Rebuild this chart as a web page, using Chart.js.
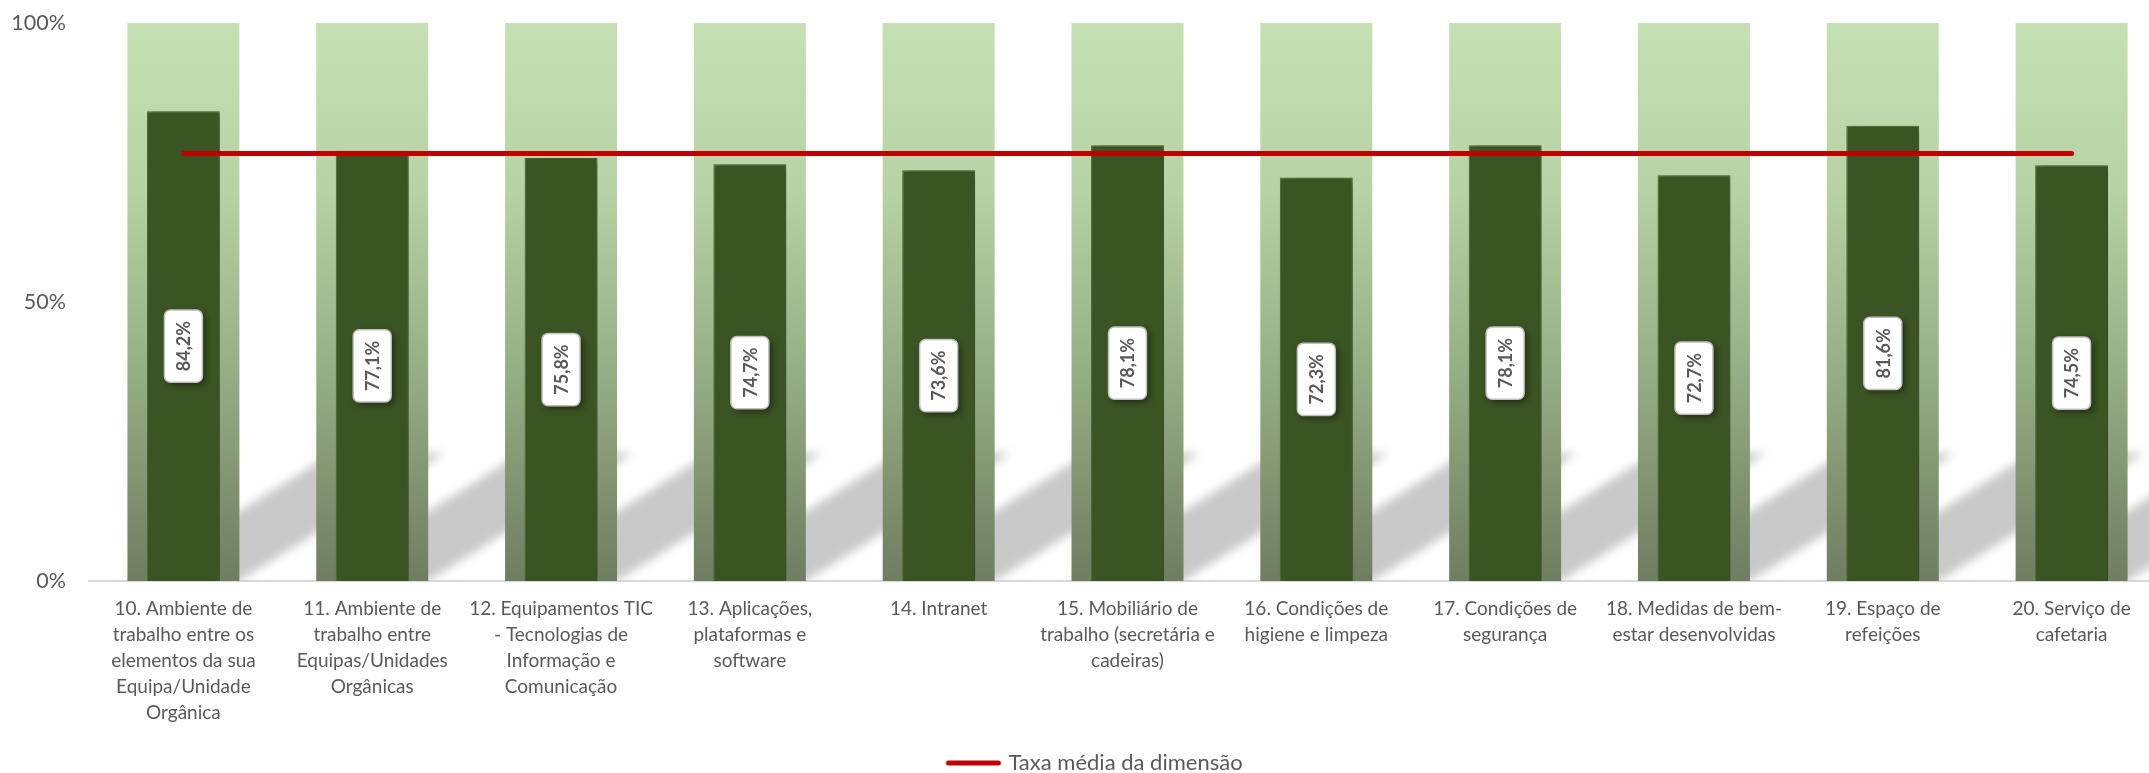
<!DOCTYPE html>
<html lang="pt">
<head>
<meta charset="utf-8">
<title>Condições de trabalho</title>
<script src="https://cdn.jsdelivr.net/npm/chart.js@4.4.1/dist/chart.umd.min.js"></script>
<style>
  html, body { margin: 0; padding: 0; background: #ffffff; overflow: hidden; }
  #wrap { position: relative; width: 2196px; height: 773px; }
</style>
</head>
<body>
<div id="wrap"><canvas id="grafico"></canvas></div>
<script>
// Itens avaliados (rótulos em várias linhas)
const categorias = [
  ["10. Ambiente de", "trabalho entre os", "elementos da sua", "Equipa/Unidade", "Orgânica"],
  ["11. Ambiente de", "trabalho entre", "Equipas/Unidades", "Orgânicas"],
  ["12. Equipamentos TIC", "- Tecnologias de", "Informação e", "Comunicação"],
  ["13. Aplicações,", "plataformas e", "software"],
  ["14. Intranet"],
  ["15. Mobiliário de", "trabalho (secretária e", "cadeiras)"],
  ["16. Condições de", "higiene e limpeza"],
  ["17. Condições de", "segurança"],
  ["18. Medidas de bem-", "estar desenvolvidas"],
  ["19. Espaço de", "refeições"],
  ["20. Serviço de", "cafetaria"]
];

// Taxa de satisfação por item (%)
const taxas = [84.2, 77.1, 75.8, 74.7, 73.6, 78.1, 72.3, 78.1, 72.7, 81.6, 74.5];

// Taxa média da dimensão (%)
const taxaMedia = [76.6, 76.6, 76.6, 76.6, 76.6, 76.6, 76.6, 76.6, 76.6, 76.6, 76.6];

// Barras de fundo (escala completa)
const fundo = [100, 100, 100, 100, 100, 100, 100, 100, 100, 100, 100];

// Marcas do eixo vertical
const marcasY = [0, 50, 100];

const FONTE = 'Lato, "Open Sans", sans-serif';
const CINZA_TEXTO = '#595959';
const VERMELHO = '#c00000';
const TAM_LEGENDA = 22;

// Marcador da legenda: traço vermelho com pontas arredondadas
function marcadorLinha() {
  const c = document.createElement('canvas');
  c.width = 58; c.height = 8;
  const g = c.getContext('2d');
  g.strokeStyle = VERMELHO;
  g.lineWidth = 5;
  g.lineCap = 'round';
  g.beginPath();
  g.moveTo(4, 4);
  g.lineTo(54, 4);
  g.stroke();
  return c;
}

function gradienteFundo(context) {
  const area = context.chart.chartArea;
  if (!area) return '#b5d0a2';
  const g = context.chart.ctx.createLinearGradient(0, area.top, 0, area.bottom);
  g.addColorStop(0, '#c5e0b3');
  g.addColorStop(0.3, '#b7d2a4');
  g.addColorStop(0.65, '#93ab82');
  g.addColorStop(1, '#6f7d61');
  return g;
}

// Sombra diagonal projetada pelas barras de fundo
const sombraDiagonal = {
  id: 'sombraDiagonal',
  beforeDatasetsDraw(chart) {
    const meta = chart.getDatasetMeta(2);
    const area = chart.chartArea;
    const ctx = chart.ctx;
    const dx = 205, dy = 128;
    ctx.save();
    ctx.beginPath();
    ctx.rect(area.left, area.top, area.right - area.left, area.bottom - area.top);
    ctx.clip();
    ctx.filter = 'blur(5px)';
    ctx.fillStyle = '#c9c9c9';
    meta.data.forEach(el => {
      const p = el.getProps(['x', 'width', 'base'], true);
      const xL = p.x - p.width / 2, xR = p.x + p.width / 2, b = p.base;
      ctx.beginPath();
      ctx.moveTo(xL, b);
      ctx.lineTo(xR, b);
      ctx.lineTo(xR + dx, b - dy);
      ctx.lineTo(xL + dx, b - dy);
      ctx.closePath();
      ctx.fill();
    });
    ctx.restore();
  }
};

// Sombra suave à direita das barras de taxa
const sombraBarras = {
  id: 'sombraBarras',
  beforeDatasetDraw(chart, args) {
    if (args.index !== 1) return;
    const ctx = chart.ctx;
    ctx.save();
    ctx.shadowColor = 'rgba(0,0,0,0.45)';
    ctx.shadowBlur = 9;
    ctx.shadowOffsetX = 4;
    ctx.shadowOffsetY = 2;
  },
  afterDatasetDraw(chart, args) {
    if (args.index !== 1) return;
    chart.ctx.restore();
  }
};

// Legenda centrada sob o gráfico, junto ao rodapé
const posicaoLegenda = {
  id: 'posicaoLegenda',
  afterLayout(chart) {
    const lg = chart.legend;
    if (!lg) return;
    const pad = lg.options.labels.padding;
    const dx = 1096 - (lg.left + lg.right) / 2;
    const dy = 763 - (lg.top + pad + TAM_LEGENDA / 2);
    lg.left += dx; lg.right += dx;
    lg.top += dy; lg.bottom += dy;
  }
};

// Etiquetas verticais com o valor de cada barra
const etiquetas = {
  id: 'etiquetas',
  afterDatasetsDraw(chart) {
    const meta = chart.getDatasetMeta(1);
    const ctx = chart.ctx;
    const valores = chart.data.datasets[1].data;
    meta.data.forEach((el, i) => {
      const p = el.getProps(['x', 'y', 'base'], true);
      const texto = valores[i].toFixed(1).replace('.', ',') + '%';
      ctx.save();
      ctx.translate(p.x, (p.y + p.base) / 2);
      ctx.rotate(-Math.PI / 2);
      ctx.font = 'bold 18px ' + FONTE;
      const w = ctx.measureText(texto).width + 22;
      const h = 38;
      ctx.shadowColor = 'rgba(0,0,0,0.45)';
      ctx.shadowBlur = 6;
      ctx.shadowOffsetX = 3;
      ctx.shadowOffsetY = 3;
      ctx.beginPath();
      ctx.roundRect(-w / 2, -h / 2, w, h, 6);
      ctx.fillStyle = '#ffffff';
      ctx.fill();
      ctx.shadowColor = 'transparent';
      ctx.lineWidth = 1.5;
      ctx.strokeStyle = '#bfbfbf';
      ctx.stroke();
      ctx.fillStyle = CINZA_TEXTO;
      ctx.textAlign = 'center';
      ctx.textBaseline = 'middle';
      ctx.fillText(texto, 0, 1);
      ctx.restore();
    });
  }
};

new Chart(document.getElementById('grafico'), {
  data: {
    labels: categorias,
    datasets: [
      {
        type: 'line',
        label: 'Taxa média da dimensão',
        data: taxaMedia,
        borderColor: VERMELHO,
        backgroundColor: VERMELHO,
        borderWidth: 5,
        borderCapStyle: 'round',
        pointRadius: 0,
        order: 0
      },
      {
        type: 'bar',
        label: 'Taxa',
        data: taxas,
        backgroundColor: '#3b5423',
        borderColor: '#4f6e32',
        borderWidth: 1,
        grouped: false,
        categoryPercentage: 1,
        barPercentage: 0.386,
        order: 1
      },
      {
        type: 'bar',
        label: 'Fundo',
        data: fundo,
        backgroundColor: gradienteFundo,
        borderWidth: 0,
        grouped: false,
        categoryPercentage: 1,
        barPercentage: 0.593,
        order: 2
      }
    ]
  },
  options: {
    responsive: true,
    maintainAspectRatio: false,
    animation: false,
    layout: { padding: { top: 23, left: 0, right: 30, bottom: 0 } },
    plugins: {
      legend: {
        position: 'bottom',
        labels: {
          usePointStyle: true,
          pointStyle: marcadorLinha(),
          pointStyleWidth: 48,
          padding: 10,
          color: CINZA_TEXTO,
          font: { family: FONTE, size: TAM_LEGENDA },
          filter: item => item.datasetIndex === 0
        }
      },
      tooltip: { enabled: false }
    },
    scales: {
      x: {
        grid: { display: false, drawTicks: false },
        border: { display: true, color: '#d9d9d9', width: 2 },
        ticks: {
          autoSkip: false,
          maxRotation: 0,
          minRotation: 0,
          padding: 15,
          color: CINZA_TEXTO,
          font: { family: FONTE, size: 19, lineHeight: 1.37 }
        },
        afterFit(scale) { scale.height = 150; }
      },
      y: {
        min: marcasY[0],
        max: marcasY[marcasY.length - 1],
        grid: { display: false, drawTicks: false },
        border: { display: false },
        afterBuildTicks(scale) { scale.ticks = marcasY.map(v => ({ value: v })); },
        ticks: {
          padding: 23,
          color: CINZA_TEXTO,
          font: { family: FONTE, size: 21.5 },
          callback: v => v + '%'
        },
        afterFit(scale) {
          scale.width = 89;
          scale.paddingTop = 13;
          scale.paddingBottom = 13;
        }
      }
    }
  },
  plugins: [sombraDiagonal, sombraBarras, posicaoLegenda, etiquetas]
});
</script>
</body>
</html>
